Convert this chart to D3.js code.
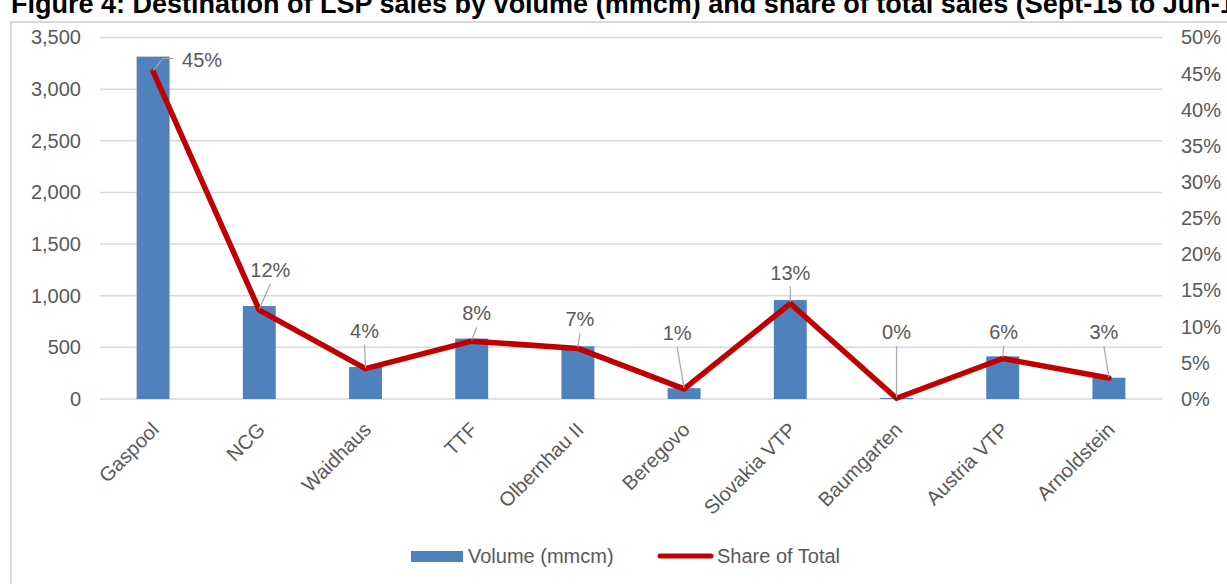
<!DOCTYPE html>
<meta charset="utf-8">
<head>
  <meta charset="UTF-8">
  <title>Destination of LSP sales</title>
  <style>
    body { margin: 0; background: #fff; }
    svg { display: block; font-family: Arial, "Liberation Sans", sans-serif; }
    .tick text { fill: #595959; font-size: 20px; }
  </style>
</head>
<body>
<script src="https://cdn.jsdelivr.net/npm/d3@7"></script>
<div id="chart"></div>
<script>

// data
var categories = ["Gaspool", "NCG", "Waidhaus", "TTF", "Olbernhau II", "Beregovo",
                  "Slovakia VTP", "Baumgarten", "Austria VTP", "Arnoldstein"];
var volume = [3315, 900, 310, 585, 510, 105, 958, 10, 413, 206];
var share = [0.453, 0.123, 0.042, 0.080, 0.070, 0.014, 0.132, 0.001, 0.056, 0.029];
var volumeTicks = [0, 500, 1000, 1500, 2000, 2500, 3000, 3500];
var shareTicks = [0, 0.05, 0.10, 0.15, 0.20, 0.25, 0.30, 0.35, 0.40, 0.45, 0.50];

// where the data labels were dragged to (px from the point)
var labelShift = [[49, -11], [11, -40], [-1, -38], [5, -28], [2, -29],
                  [-7, -56], [0, -31], [0, -66], [1, -27], [-5, -46]];

var width = 1227, height = 584;
var plotLeft = 100, plotRight = 1162, plotTop = 37.5, plotBottom = 399;

var svg = d3.select("#chart").append("svg")
    .attr("width", width)
    .attr("height", height);

svg.append("rect").attr("width", width).attr("height", height).attr("fill", "#fff");

// chart frame
svg.append("rect")
    .attr("x", 11).attr("y", 22)
    .attr("width", 1400).attr("height", 700)
    .attr("fill", "none")
    .attr("stroke", "#d9d9d9")
    .attr("stroke-width", 2);

// title (runs off the top and right of the crop)
svg.append("text")
    .attr("x", 11).attr("y", 13)
    .style("font-size", "27px")
    .style("font-weight", "bold")
    .attr("fill", "#000")
    .text("Figure 4: Destination of LSP sales by volume (mmcm) and share of total sales (Sept-15 to Jun-16)");

var x = d3.scaleBand()
    .domain(categories)
    .range([plotLeft, plotRight])
    .paddingInner(0.69)
    .paddingOuter(0.345);

var yL = d3.scaleLinear().domain([0, 3500]).range([plotBottom, plotTop]);
var yR = d3.scaleLinear().domain([0, 0.5]).range([plotBottom, plotTop]);

// gridlines
svg.append("g").selectAll("line")
    .data(volumeTicks)
    .enter().append("line")
      .attr("x1", plotLeft).attr("x2", plotRight)
      .attr("y1", function(d) { return yL(d); })
      .attr("y2", function(d) { return yL(d); })
      .attr("stroke", "#d9d9d9")
      .attr("stroke-width", 1.5);

var axisL = svg.append("g")
    .attr("transform", "translate(" + plotLeft + ",0)")
    .call(d3.axisLeft(yL).tickValues(volumeTicks).tickFormat(d3.format(",")).tickSize(0).tickPadding(19));
axisL.select(".domain").remove();

var axisR = svg.append("g")
    .attr("transform", "translate(" + plotRight + ",0)")
    .call(d3.axisRight(yR).tickValues(shareTicks).tickFormat(d3.format(".0%")).tickSize(0).tickPadding(19));
axisR.select(".domain").remove();

// bars
svg.append("g").selectAll("rect")
    .data(volume)
    .enter().append("rect")
      .attr("x", function(d, i) { return x(categories[i]); })
      .attr("width", x.bandwidth())
      .attr("y", function(d) { return yL(d); })
      .attr("height", function(d) { return plotBottom - yL(d); })
      .attr("fill", "#4f81bd");

// category labels, rotated
svg.append("g").selectAll("text")
    .data(categories)
    .enter().append("text")
      .attr("transform", function(d) {
        return "translate(" + (x(d) + x.bandwidth() / 2 + 2) + "," + 426 + ")rotate(-45)"; })
      .attr("text-anchor", "end")
      .attr("dy", "0.35em")
      .attr("fill", "#595959")
      .style("font-size", "20px")
      .text(function(d) { return d; });

// share line
var cx = function(i) { return x(categories[i]) + x.bandwidth() / 2; };

var line = d3.line()
    .x(function(d, i) { return cx(i); })
    .y(function(d) { return yR(d); });

svg.append("path")
    .datum(share)
    .attr("d", line)
    .attr("fill", "none")
    .attr("stroke", "#c00000")
    .attr("stroke-width", 5.5)
    .attr("stroke-linejoin", "round")
    .attr("stroke-linecap", "round");

// data labels with leader lines
var fmt = d3.format(".0%");
var labels = svg.append("g");

share.forEach(function(d, i) {
  var px = cx(i), py = yR(d);
  var lx = px + labelShift[i][0], ly = py + labelShift[i][1];
  var pts;
  if (i === 0) {
    pts = [[px, py - 1], [px + 10, ly - 2], [px + 20, ly - 2]];
  } else {
    pts = [[px, py - 1], [lx, ly + 14]];
  }
  labels.append("path")
      .attr("d", d3.line()(pts))
      .attr("fill", "none")
      .attr("stroke", "#a6a6a6")
      .attr("stroke-width", 1.2);
  labels.append("text")
      .attr("x", lx).attr("y", ly)
      .attr("dy", "0.35em")
      .attr("text-anchor", "middle")
      .attr("fill", "#595959")
      .style("font-size", "20px")
      .text(fmt(d));
});

// legend
var legend = svg.append("g");
legend.append("rect")
    .attr("x", 411).attr("y", 551)
    .attr("width", 52).attr("height", 11)
    .attr("fill", "#4f81bd");
legend.append("text")
    .attr("x", 468).attr("y", 556).attr("dy", "0.35em")
    .attr("fill", "#595959").style("font-size", "20px")
    .text("Volume (mmcm)");
legend.append("line")
    .attr("x1", 660).attr("x2", 711)
    .attr("y1", 556).attr("y2", 556)
    .attr("stroke", "#c00000").attr("stroke-width", 5)
    .attr("stroke-linecap", "round");
legend.append("text")
    .attr("x", 717).attr("y", 556).attr("dy", "0.35em")
    .attr("fill", "#595959").style("font-size", "20px")
    .text("Share of Total");

</script>
</body>
